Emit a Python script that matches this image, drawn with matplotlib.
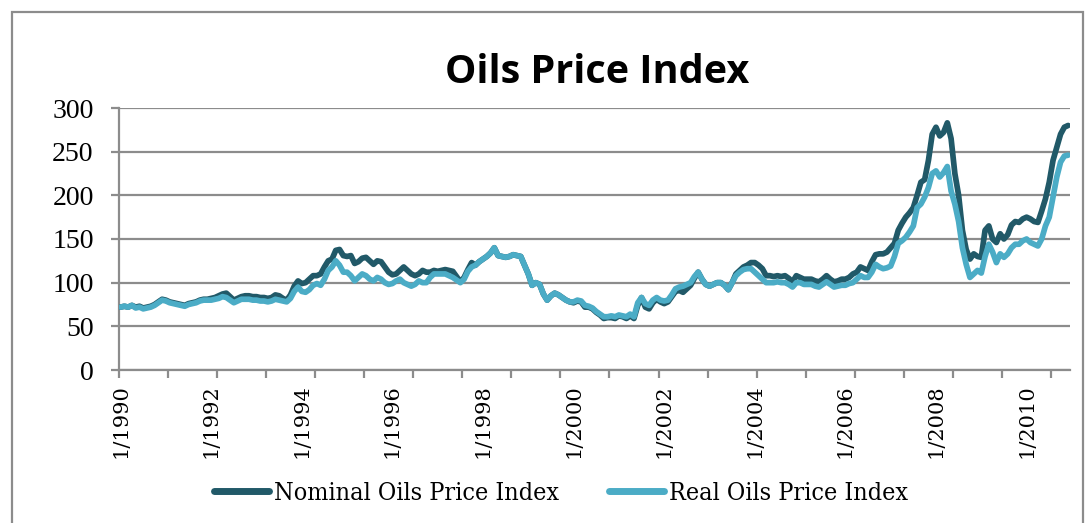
import numpy as np
import matplotlib
matplotlib.use('Agg')
import matplotlib.pyplot as plt
from matplotlib.patches import Rectangle

##########################################################################################
#### Data: monthly index, 1/1990 .. 12/2010
nominal = [
    72, 73, 72, 74, 72, 73, 71, 72, 73, 75, 78, 81,            # 1990
    80, 78, 77, 76, 75, 74, 76, 77, 78, 80, 81, 81,            # 1991
    82, 83, 85, 87, 88, 84, 80, 82, 84, 85, 85, 84,            # 1992
    84, 83, 83, 82, 83, 86, 85, 82, 80, 86, 96, 102,           # 1993
    99, 100, 104, 108, 108, 110, 118, 125, 127, 137, 138, 131, # 1994
    130, 131, 122, 124, 128, 129, 125, 121, 125, 124, 118, 112,# 1995
    109, 110, 114, 118, 114, 110, 108, 110, 114, 112, 112, 114,# 1996
    113, 114, 115, 114, 113, 107, 101, 106, 115, 123, 120, 124,# 1997
    127, 130, 134, 140, 131, 130, 129, 130, 132, 131, 130, 120,# 1998
    110, 97, 100, 98, 87, 80, 85, 88, 86, 83, 80, 78,          # 1999
    77, 79, 78, 72, 72, 70, 66, 63, 59, 60, 60, 59,            # 2000
    62, 61, 59, 62, 59, 74, 83, 72, 70, 77, 81, 78,            # 2001
    76, 78, 84, 90, 91, 89, 93, 97, 105, 112, 104, 98,         # 2002
    96, 98, 100, 100, 97, 92, 100, 110, 114, 118, 120, 123,    # 2003
    123, 120, 116, 108, 108, 107, 108, 107, 108, 105, 101, 108,# 2004
    106, 104, 104, 104, 102, 101, 104, 108, 104, 101, 102, 104,# 2005
    104, 106, 110, 112, 118, 116, 114, 124, 132, 133, 133, 135,# 2006
    140, 145, 160, 168, 175, 180, 186, 200, 215, 218, 240, 270,# 2007
    278, 268, 272, 283, 265, 225, 200, 160, 138, 127, 133, 130,# 2008
    129, 160, 165, 150, 146, 156, 150, 155, 166, 170, 169, 173,# 2009
    175, 173, 170, 169, 182, 196, 215, 240, 255, 270, 278, 280,# 2010
]
real = [
    72, 73, 72, 74, 71, 72, 70, 71, 72, 74, 77, 80,
    79, 77, 76, 75, 74, 73, 75, 76, 77, 79, 80, 80,
    80, 81, 82, 84, 83, 80, 77, 79, 81, 81, 81, 80,
    80, 79, 79, 78, 79, 81, 80, 79, 78, 82, 90, 95,
    90, 89, 92, 97, 99, 97, 104, 114, 118, 125, 120, 112,
    112, 108, 102, 106, 110, 108, 104, 102, 106, 104, 100, 98,
    99, 102, 104, 100, 98, 96, 98, 102, 100, 100, 106, 110,
    110, 110, 110, 108, 106, 103, 100, 104, 113, 118, 120, 124,
    127, 130, 134, 140, 131, 130, 129, 130, 132, 131, 130, 120,
    110, 97, 100, 98, 87, 80, 85, 88, 86, 83, 80, 78,
    78, 80, 79, 74, 73, 71, 67, 64, 61, 61, 62, 61,
    63, 62, 61, 64, 61, 77, 83, 76, 74, 80, 83, 80,
    79, 80, 86, 93, 95, 96, 98, 100, 107, 112, 104, 98,
    96, 98, 100, 100, 97, 92, 100, 108, 112, 115, 116, 116,
    112, 108, 104, 100, 100, 100, 101, 100, 100, 98, 95, 100,
    100, 98, 98, 98, 96, 95, 98, 101, 98, 95, 96, 97,
    97, 99, 100, 104, 108, 106, 106, 112, 121, 118, 116, 117,
    119, 130, 145, 148, 152, 158, 165, 186, 190, 198, 209, 225,
    228, 221, 226, 233, 205, 190, 170, 140, 121, 106, 110, 114,
    111, 130, 144, 135, 123, 133, 129, 133, 140, 144, 144, 148,
    150, 146, 144, 142, 150, 165, 175, 198, 221, 238, 245, 246,
]
years_lbl = ['1/%d' % y for y in range(1990, 2011, 2)]

##########################################################################################
#### Plot
fig = plt.figure(figsize=(10.9, 5.23), dpi=100)
ax = fig.add_axes([118.7/1090, 1-370/523, (1070-118.7)/1090, (370-108)/523])

x = np.arange(len(nominal))
ax.plot(x, nominal, color='#215968', lw=4.1, solid_capstyle='round', solid_joinstyle='round',
        label='Nominal Oils Price Index', zorder=3)
ax.plot(x, real, color='#4bacc6', lw=4.1, solid_capstyle='round', solid_joinstyle='round',
        label='Real Oils Price Index', zorder=4)

ax.set_xlim(-0.5, len(nominal)-0.5)
ax.set_ylim(0, 300)
ax.set_yticks(range(0, 301, 50))
ax.yaxis.grid(True, color='#8c8c8c', lw=1.6)
ax.set_axisbelow(True)

ax.set_xticks(np.arange(0, len(nominal), 24))
ax.set_xticklabels(years_lbl, rotation=90, family='DejaVu Serif', fontsize=15)
ax.set_xticks(np.arange(-0.5, len(nominal), 13), minor=True)
ax.tick_params(axis='x', which='major', length=0, pad=10)
ax.tick_params(axis='x', which='minor', length=6, width=1.6, color='#8c8c8c', direction='out')
ax.tick_params(axis='y', length=6, width=1.6, color='#8c8c8c', pad=12)
for t in ax.get_yticklabels():
    t.set_family('Liberation Serif')
    t.set_fontsize(20)

for s in ['top', 'right']:
    ax.spines[s].set_visible(False)
for s in ['left', 'bottom']:
    ax.spines[s].set_color('#8c8c8c')
    ax.spines[s].set_linewidth(1.6)

fig.text(0.548, 0.862, 'Oils Price Index', ha='center', va='center',
         family='Open Sans', weight='bold', fontsize=28.5)

leg = fig.legend(loc='center', bbox_to_anchor=(0.515, 0.057), ncol=2, frameon=False,
                 prop={'family': 'DejaVu Serif', 'stretch': 'condensed', 'size': 18},
                 handlelength=2.2, handletextpad=0.2, columnspacing=2.0)
for l in leg.get_lines():
    l.set_linewidth(5)

# chart area border
fig.patches.append(Rectangle((12/1090, -0.1), (1083-12)/1090, 1-12/523+0.1,
                             transform=fig.transFigure, fill=False, ec='#8c8c8c', lw=1.6))

fig.savefig('out.png', dpi=100)
